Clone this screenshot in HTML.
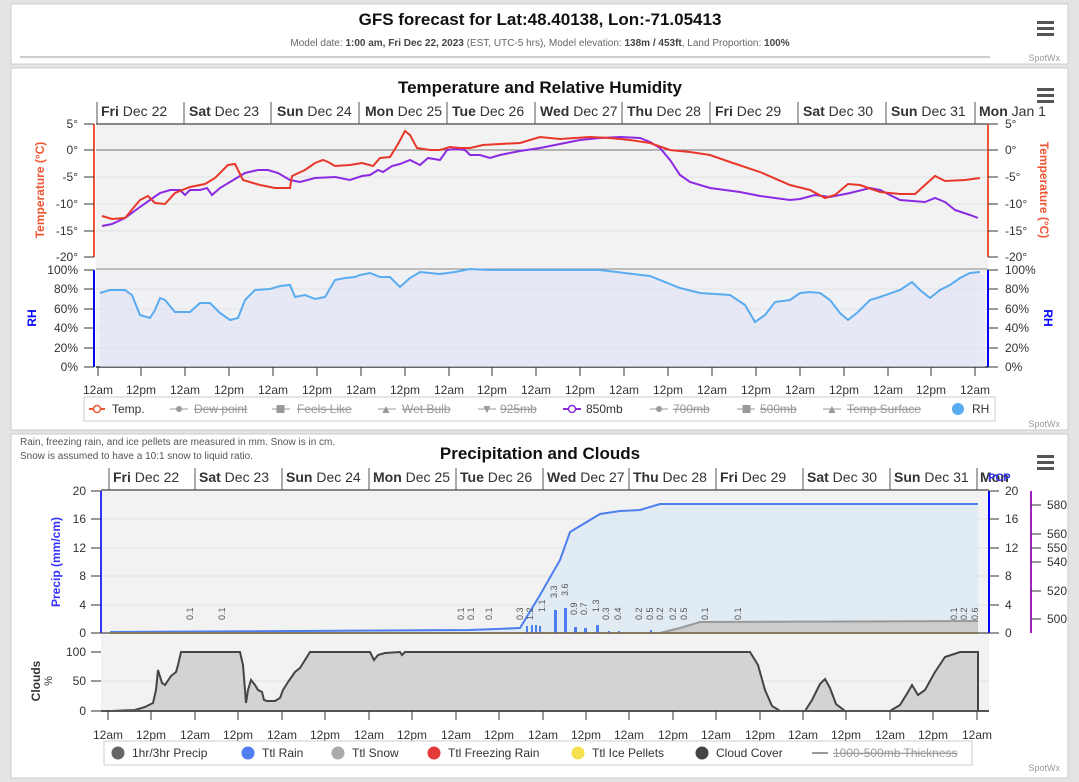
<!DOCTYPE html>
<html><head><meta charset="utf-8"><style>
body{margin:0;width:1079px;height:782px;background:#e4e4e4;overflow:hidden;font-family:"Liberation Sans",sans-serif}
svg{position:absolute;left:0;top:0}
text{font-family:"Liberation Sans",sans-serif}
</style></head><body>
<svg width="1079" height="782" viewBox="0 0 1079 782">
<defs>
<pattern id="g" width="1" height="1"><rect width="1" height="1" fill="#f3f3f3"/></pattern>
</defs>
<!-- panels -->
<rect x="11" y="4" width="1057" height="60" fill="#fff" stroke="#ccc"/>
<rect x="11" y="68" width="1057" height="362" fill="#fff" stroke="#ccc"/>
<rect x="11" y="434" width="1057" height="344" fill="#fff" stroke="#ccc"/>
<line x1="20" y1="57" x2="990" y2="57" stroke="#ccc" stroke-width="2"/>
<text x="540" y="25" font-size="17" font-weight="bold" text-anchor="middle" fill="#111">GFS forecast for Lat:48.40138, Lon:-71.05413</text>
<text x="540" y="46" font-size="10" text-anchor="middle" fill="#666">Model date: <tspan font-weight="bold" fill="#444">1:00 am, Fri Dec 22, 2023</tspan> (EST, UTC-5 hrs), Model elevation: <tspan font-weight="bold" fill="#444">138m / 453ft</tspan>, Land Proportion: <tspan font-weight="bold" fill="#444">100%</tspan></text>
<g fill="#555"><rect x="1037" y="21" width="17" height="3"/><rect x="1037" y="27" width="17" height="3"/><rect x="1037" y="33" width="17" height="3"/>
<rect x="1037" y="88" width="17" height="3"/><rect x="1037" y="94" width="17" height="3"/><rect x="1037" y="100" width="17" height="3"/>
<rect x="1037" y="455" width="17" height="3"/><rect x="1037" y="461" width="17" height="3"/><rect x="1037" y="467" width="17" height="3"/></g>
<g font-size="9" fill="#999" text-anchor="end"><text x="1060" y="61">SpotWx</text><text x="1060" y="427">SpotWx</text><text x="1060" y="771">SpotWx</text></g>

<!-- Temp panel -->
<text x="540" y="93" font-size="17" font-weight="bold" text-anchor="middle" fill="#111">Temperature and Relative Humidity</text>
<rect x="96" y="124" width="892" height="243" fill="#f2f2f2"/>
<rect x="96" y="270" width="880" height="97" fill="#eef0f8" opacity="0.5"/>
<g stroke="#e2e2e2" stroke-width="1">
<line x1="96" y1="177" x2="988" y2="177"/><line x1="96" y1="204" x2="988" y2="204"/><line x1="96" y1="231" x2="988" y2="231"/>
<line x1="96" y1="289" x2="988" y2="289"/><line x1="96" y1="309" x2="988" y2="309"/><line x1="96" y1="328" x2="988" y2="328"/><line x1="96" y1="348" x2="988" y2="348"/>
</g>
<line x1="96" y1="150" x2="988" y2="150" stroke="#777"/>
<line x1="96" y1="124" x2="988" y2="124" stroke="#888" stroke-width="2"/>
<line x1="96" y1="269" x2="988" y2="269" stroke="#888" stroke-width="1"/>
<line x1="96" y1="367" x2="988" y2="367" stroke="#666" stroke-width="2"/>
<g stroke="#555"><line x1="97" y1="102" x2="97" y2="124"/><line x1="184" y1="102" x2="184" y2="124"/><line x1="271" y1="102" x2="271" y2="124"/><line x1="359" y1="102" x2="359" y2="124"/><line x1="447" y1="102" x2="447" y2="124"/><line x1="535" y1="102" x2="535" y2="124"/><line x1="622" y1="102" x2="622" y2="124"/><line x1="710" y1="102" x2="710" y2="124"/><line x1="798" y1="102" x2="798" y2="124"/><line x1="886" y1="102" x2="886" y2="124"/><line x1="975" y1="102" x2="975" y2="124"/></g>
<g font-size="14" fill="#333">
<text x="101" y="116"><tspan font-weight="bold">Fri</tspan> Dec 22</text><text x="189" y="116"><tspan font-weight="bold">Sat</tspan> Dec 23</text><text x="277" y="116"><tspan font-weight="bold">Sun</tspan> Dec 24</text><text x="365" y="116"><tspan font-weight="bold">Mon</tspan> Dec 25</text><text x="452" y="116"><tspan font-weight="bold">Tue</tspan> Dec 26</text><text x="540" y="116"><tspan font-weight="bold">Wed</tspan> Dec 27</text><text x="627" y="116"><tspan font-weight="bold">Thu</tspan> Dec 28</text><text x="715" y="116"><tspan font-weight="bold">Fri</tspan> Dec 29</text><text x="803" y="116"><tspan font-weight="bold">Sat</tspan> Dec 30</text><text x="891" y="116"><tspan font-weight="bold">Sun</tspan> Dec 31</text><text x="979" y="116"><tspan font-weight="bold">Mon</tspan> Jan 1</text>
</g>
<line x1="94" y1="124" x2="94" y2="257" stroke="#e53" stroke-width="2"/>
<line x1="988" y1="124" x2="988" y2="257" stroke="#e53" stroke-width="2"/>
<line x1="94" y1="270" x2="94" y2="367" stroke="#00f" stroke-width="2"/>
<line x1="988" y1="270" x2="988" y2="367" stroke="#00f" stroke-width="2"/>
<g font-size="12" fill="#333" text-anchor="end">
<text x="78" y="128">5°</text><text x="78" y="154">0°</text><text x="78" y="181">-5°</text><text x="78" y="208">-10°</text><text x="78" y="235">-15°</text><text x="78" y="261">-20°</text>
<text x="78" y="274">100%</text><text x="78" y="293">80%</text><text x="78" y="313">60%</text><text x="78" y="332">40%</text><text x="78" y="352">20%</text><text x="78" y="371">0%</text>
</g>
<g font-size="12" fill="#333">
<text x="1005" y="128">5°</text><text x="1005" y="154">0°</text><text x="1005" y="181">-5°</text><text x="1005" y="208">-10°</text><text x="1005" y="235">-15°</text><text x="1005" y="261">-20°</text>
<text x="1005" y="274">100%</text><text x="1005" y="293">80%</text><text x="1005" y="313">60%</text><text x="1005" y="332">40%</text><text x="1005" y="352">20%</text><text x="1005" y="371">0%</text>
</g>
<g stroke="#333"><line x1="84" y1="124" x2="94" y2="124"/><line x1="84" y1="150" x2="94" y2="150"/><line x1="84" y1="177" x2="94" y2="177"/><line x1="84" y1="204" x2="94" y2="204"/><line x1="84" y1="231" x2="94" y2="231"/><line x1="84" y1="257" x2="94" y2="257"/>
<line x1="84" y1="270" x2="94" y2="270"/><line x1="84" y1="289" x2="94" y2="289"/><line x1="84" y1="309" x2="94" y2="309"/><line x1="84" y1="328" x2="94" y2="328"/><line x1="84" y1="348" x2="94" y2="348"/><line x1="84" y1="367" x2="94" y2="367"/>
<line x1="988" y1="124" x2="998" y2="124"/><line x1="988" y1="150" x2="998" y2="150"/><line x1="988" y1="177" x2="998" y2="177"/><line x1="988" y1="204" x2="998" y2="204"/><line x1="988" y1="231" x2="998" y2="231"/><line x1="988" y1="257" x2="998" y2="257"/>
<line x1="988" y1="270" x2="998" y2="270"/><line x1="988" y1="289" x2="998" y2="289"/><line x1="988" y1="309" x2="998" y2="309"/><line x1="988" y1="328" x2="998" y2="328"/><line x1="988" y1="348" x2="998" y2="348"/><line x1="988" y1="367" x2="998" y2="367"/></g>
<text transform="translate(44,190) rotate(-90)" font-size="12" font-weight="bold" fill="#e53" text-anchor="middle">Temperature (°C)</text>
<text transform="translate(1040,190) rotate(90)" font-size="12" font-weight="bold" fill="#e53" text-anchor="middle">Temperature (°C)</text>
<text transform="translate(36,318) rotate(-90)" font-size="12" font-weight="bold" fill="#00f" text-anchor="middle">RH</text>
<text transform="translate(1044,318) rotate(90)" font-size="12" font-weight="bold" fill="#00f" text-anchor="middle">RH</text>
<path d="M100,293 L110,290 125,290 132,295 140,315 150,318 155,310 160,298 165,300 175,312 190,312 200,303 210,303 220,313 230,320 238,318 245,300 255,290 270,289 280,286 290,285 295,297 305,295 315,299 325,297 335,280 345,278 355,277 360,275 370,273 380,277 390,277 400,287 410,278 420,272 430,273 440,274 455,272 470,269 490,270 600,270 650,276 680,288 700,293 730,295 745,305 755,322 765,315 775,302 790,300 800,293 810,292 820,293 830,300 840,313 848,320 858,312 870,300 880,297 900,290 912,282 920,290 930,298 940,290 950,285 960,278 970,273 985,275 L985,367 L100,367Z" fill="#dfe2f5" opacity="0.6"/>
<polyline fill="none" stroke="#5aacf0" stroke-width="2" points="100,293 110,290 125,290 132,295 140,315 150,318 155,310 160,298 165,300 175,312 190,312 200,303 210,303 220,313 230,320 238,318 245,300 255,290 270,289 280,286 290,285 295,297 305,295 315,299 325,297 335,280 345,278 355,277 360,275 370,273 380,277 390,277 400,287 410,278 420,272 430,273 440,274 455,272 470,269 490,270 600,270 650,276 680,288 700,293 730,295 745,305 755,322 765,315 775,302 790,300 800,293 810,292 820,293 830,300 840,313 848,320 858,312 870,300 880,297 900,290 912,282 920,290 930,298 940,290 950,285 960,278 970,273 980,272"/>
<polyline fill="none" stroke="#8a2be2" stroke-width="2" points="102,226 112,224 125,218 140,207 150,200 160,193 170,190 180,190 185,195 190,190 200,190 207,188 212,195 220,188 235,179 245,173 258,170 268,170 278,173 290,180 300,182 315,178 335,177 350,180 362,176 370,175 378,170 383,172 392,166 400,164 410,160 420,165 428,158 440,160 447,150 455,149 465,150 470,155 480,155 490,158 500,155 520,151 540,148 560,144 580,140 600,138 620,137 640,138 650,142 660,148 670,160 680,175 690,182 710,188 740,192 760,196 775,198 790,200 800,199 815,195 830,197 850,193 870,188 880,190 900,200 925,202 935,198 945,202 955,210 970,215 978,218"/>
<polyline fill="none" stroke="#e8372a" stroke-width="2" points="102,216 112,219 125,218 140,200 148,196 155,203 165,204 175,193 190,187 205,184 215,178 228,165 235,164 243,180 260,185 275,188 290,188 292,176 305,170 315,163 323,160 328,162 335,166 350,165 362,163 373,166 380,158 390,157 398,144 405,131 410,135 417,148 430,150 440,150 450,147 460,148 470,148 483,145 500,144 520,143 540,137 560,139 590,137 610,138 630,140 650,143 670,150 690,152 710,155 730,162 760,172 790,185 810,190 825,198 835,195 848,184 860,185 880,192 900,194 915,194 925,185 935,176 945,181 965,180 980,178"/>
<g font-size="12" fill="#333" text-anchor="middle" id="tl1">
<text x="98" y="394">12am</text><text x="141" y="394">12pm</text><text x="185" y="394">12am</text><text x="229" y="394">12pm</text><text x="273" y="394">12am</text><text x="317" y="394">12pm</text><text x="361" y="394">12am</text><text x="405" y="394">12pm</text><text x="449" y="394">12am</text><text x="492" y="394">12pm</text><text x="536" y="394">12am</text><text x="580" y="394">12pm</text><text x="624" y="394">12am</text><text x="668" y="394">12pm</text><text x="712" y="394">12am</text><text x="756" y="394">12pm</text><text x="800" y="394">12am</text><text x="844" y="394">12pm</text><text x="888" y="394">12am</text><text x="931" y="394">12pm</text><text x="975" y="394">12am</text>
</g>
<g stroke="#333"><path d="M98,367v9M141,367v9M185,367v9M229,367v9M273,367v9M317,367v9M361,367v9M405,367v9M449,367v9M492,367v9M536,367v9M580,367v9M624,367v9M668,367v9M712,367v9M756,367v9M800,367v9M844,367v9M888,367v9M931,367v9M975,367v9"/></g>
<rect x="84" y="397" width="911" height="24" fill="#fff" stroke="#ccc"/>
<g font-size="12" fill="#333">
<line x1="89" y1="409" x2="105" y2="409" stroke="#e53" stroke-width="2"/><circle cx="97" cy="409" r="3.5" fill="#fff" stroke="#e53" stroke-width="1.5"/><text x="112" y="413">Temp.</text>
<g fill="#999" stroke="#999"><line x1="170" y1="409" x2="188" y2="409"/><circle cx="179" cy="409" r="2.5"/></g><text x="194" y="413" fill="#999" text-decoration="line-through">Dew point</text>
<g fill="#999" stroke="#999"><line x1="272" y1="409" x2="290" y2="409"/><rect x="277" y="405.5" width="7" height="7"/></g><text x="297" y="413" fill="#999" text-decoration="line-through">Feels Like</text>
<g fill="#999" stroke="#999"><line x1="378" y1="409" x2="396" y2="409"/></g><text x="386" y="413" fill="#999" text-anchor="middle">▲</text><text x="402" y="413" fill="#999" text-decoration="line-through">Wet Bulb</text>
<line x1="478" y1="409" x2="496" y2="409" stroke="#999"/><text x="487" y="413" fill="#999" text-anchor="middle">▼</text><text x="500" y="413" fill="#999" text-decoration="line-through">925mb</text>
<line x1="563" y1="409" x2="581" y2="409" stroke="#8a2be2" stroke-width="2"/><circle cx="572" cy="409" r="3.5" fill="#fff" stroke="#8a2be2" stroke-width="1.5"/><text x="586" y="413">850mb</text>
<g fill="#999" stroke="#999"><line x1="650" y1="409" x2="668" y2="409"/><circle cx="659" cy="409" r="2.5"/></g><text x="673" y="413" fill="#999" text-decoration="line-through">700mb</text>
<g fill="#999" stroke="#999"><line x1="737" y1="409" x2="755" y2="409"/><rect x="743" y="405.5" width="7" height="7"/></g><text x="760" y="413" fill="#999" text-decoration="line-through">500mb</text>
<line x1="823" y1="409" x2="841" y2="409" stroke="#999"/><text x="832" y="413" fill="#999" text-anchor="middle">▲</text><text x="847" y="413" fill="#999" text-decoration="line-through">Temp Surface</text>
<circle cx="958" cy="409" r="6" fill="#5aacf0"/><text x="972" y="413">RH</text>
</g>

<!-- Precip panel -->
<text x="20" y="445" font-size="10" fill="#555">Rain, freezing rain, and ice pellets are measured in mm. Snow is in cm.</text>
<text x="20" y="459" font-size="10" fill="#555">Snow is assumed to have a 10:1 snow to liquid ratio.</text>
<text x="540" y="459" font-size="17" font-weight="bold" text-anchor="middle" fill="#111">Precipitation and Clouds</text>
<rect x="101" y="491" width="888" height="220" fill="#f2f2f2"/>
<g stroke="#e2e2e2"><line x1="101" y1="519" x2="989" y2="519"/><line x1="101" y1="548" x2="989" y2="548"/><line x1="101" y1="576" x2="989" y2="576"/><line x1="101" y1="605" x2="989" y2="605"/><line x1="101" y1="681" x2="989" y2="681"/></g>
<line x1="101" y1="490" x2="989" y2="490" stroke="#888" stroke-width="2"/>
<g stroke="#555"><line x1="109" y1="468" x2="109" y2="490"/><line x1="195" y1="468" x2="195" y2="490"/><line x1="282" y1="468" x2="282" y2="490"/><line x1="369" y1="468" x2="369" y2="490"/><line x1="456" y1="468" x2="456" y2="490"/><line x1="543" y1="468" x2="543" y2="490"/><line x1="629" y1="468" x2="629" y2="490"/><line x1="716" y1="468" x2="716" y2="490"/><line x1="803" y1="468" x2="803" y2="490"/><line x1="890" y1="468" x2="890" y2="490"/><line x1="977" y1="468" x2="977" y2="490"/></g>
<g font-size="14" fill="#333">
<text x="113" y="482"><tspan font-weight="bold">Fri</tspan> Dec 22</text><text x="199" y="482"><tspan font-weight="bold">Sat</tspan> Dec 23</text><text x="286" y="482"><tspan font-weight="bold">Sun</tspan> Dec 24</text><text x="373" y="482"><tspan font-weight="bold">Mon</tspan> Dec 25</text><text x="460" y="482"><tspan font-weight="bold">Tue</tspan> Dec 26</text><text x="547" y="482"><tspan font-weight="bold">Wed</tspan> Dec 27</text><text x="633" y="482"><tspan font-weight="bold">Thu</tspan> Dec 28</text><text x="720" y="482"><tspan font-weight="bold">Fri</tspan> Dec 29</text><text x="807" y="482"><tspan font-weight="bold">Sat</tspan> Dec 30</text><text x="894" y="482"><tspan font-weight="bold">Sun</tspan> Dec 31</text><text x="980" y="482"><tspan font-weight="bold">Mon</tspan></text>
</g>
<text x="988" y="481" font-size="11" font-weight="bold" fill="#33f">PCP</text>
<path d="M110,632 L470,630 520,628 540,595 560,560 570,532 580,526 600,514 620,511 640,510 660,504 978,504 L978,633 L110,633Z" fill="#dbe8f3" opacity="0.8"/>
<path d="M660,633 L680,628 700,622 978,621 L978,633Z" fill="#ccc"/>
<polyline fill="none" stroke="#999" stroke-width="2" points="660,633 680,628 700,622 978,621"/>
<polyline fill="none" stroke="#4d7ef0" stroke-width="2" points="110,632 470,630 520,628 540,595 560,560 570,532 580,526 600,514 620,511 640,510 660,504 978,504"/>
<line x1="110" y1="633" x2="978" y2="633" stroke="#f0b040" stroke-width="2"/>
<g fill="#4d7ef0"><rect x="526" y="626" width="2" height="7"/><rect x="531" y="625" width="2" height="8"/><rect x="535" y="625" width="2" height="8"/><rect x="539" y="626" width="2" height="7"/><rect x="554" y="610" width="3" height="23"/><rect x="564" y="608" width="3" height="25"/><rect x="574" y="627" width="3" height="6"/><rect x="584" y="628" width="3" height="5"/><rect x="596" y="625" width="3" height="8"/><rect x="608" y="631" width="2" height="2"/><rect x="618" y="631" width="2" height="2"/><rect x="650" y="630" width="2" height="3"/></g>
<g font-size="9" fill="#555">
<text transform="translate(193,620) rotate(-90)">0.1</text><text transform="translate(225,620) rotate(-90)">0.1</text>
<text transform="translate(464,620) rotate(-90)">0.1</text><text transform="translate(474,620) rotate(-90)">0.1</text><text transform="translate(492,620) rotate(-90)">0.1</text>
<text transform="translate(523,620) rotate(-90)">0.3</text><text transform="translate(533,620) rotate(-90)">1.2</text><text transform="translate(545,612) rotate(-90)">1.1</text><text transform="translate(557,598) rotate(-90)">3.3</text><text transform="translate(568,596) rotate(-90)">3.6</text><text transform="translate(577,615) rotate(-90)">0.9</text><text transform="translate(587,615) rotate(-90)">0.7</text><text transform="translate(599,612) rotate(-90)">1.3</text><text transform="translate(609,620) rotate(-90)">0.3</text><text transform="translate(621,620) rotate(-90)">0.4</text><text transform="translate(642,620) rotate(-90)">0.2</text><text transform="translate(653,620) rotate(-90)">0.5</text><text transform="translate(663,620) rotate(-90)">0.2</text><text transform="translate(676,620) rotate(-90)">0.2</text><text transform="translate(687,620) rotate(-90)">0.5</text><text transform="translate(708,620) rotate(-90)">0.1</text><text transform="translate(741,620) rotate(-90)">0.1</text>
<text transform="translate(957,620) rotate(-90)">0.1</text><text transform="translate(967,620) rotate(-90)">0.2</text><text transform="translate(978,620) rotate(-90)">0.6</text>
</g>
<line x1="101" y1="633" x2="989" y2="633" stroke="#666" stroke-width="1.5"/>
<line x1="101" y1="491" x2="101" y2="633" stroke="#33f" stroke-width="2"/>
<line x1="989" y1="491" x2="989" y2="633" stroke="#00f" stroke-width="2"/>
<line x1="1031" y1="491" x2="1031" y2="633" stroke="#a020c0" stroke-width="2"/>
<g font-size="12" fill="#333" text-anchor="end"><text x="86" y="495">20</text><text x="86" y="523">16</text><text x="86" y="552">12</text><text x="86" y="580">8</text><text x="86" y="609">4</text><text x="86" y="637">0</text></g>
<g stroke="#333"><path d="M91,491h10M91,519h10M91,548h10M91,576h10M91,605h10M91,633h10M989,491h10M989,519h10M989,548h10M989,576h10M989,605h10M989,633h10M1031,505h10M1031,534h10M1031,548h10M1031,562h10M1031,591h10M1031,619h10"/></g>
<g font-size="12" fill="#333"><text x="1005" y="495">20</text><text x="1005" y="523">16</text><text x="1005" y="552">12</text><text x="1005" y="580">8</text><text x="1005" y="609">4</text><text x="1005" y="637">0</text>
<text x="1047" y="509">580</text><text x="1047" y="538">560</text><text x="1047" y="552">550</text><text x="1047" y="566">540</text><text x="1047" y="595">520</text><text x="1047" y="623">500</text></g>
<text transform="translate(60,562) rotate(-90)" font-size="12" font-weight="bold" fill="#33f" text-anchor="middle">Precip (mm/cm)</text>
<text transform="translate(40,681) rotate(-90)" font-size="12" font-weight="bold" fill="#333" text-anchor="middle">Clouds</text>
<text transform="translate(52,681) rotate(-90)" font-size="11" fill="#333" text-anchor="middle">%</text>
<path d="M101,711 L112,711 135,710 145,707 153,703 156,690 158,670 162,683 165,685 171,676 176,672 178,665 181,652 240,652 243,665 245,690 246,703 248,690 251,680 255,685 258,690 262,692 264,700 267,701 275,701 280,698 283,690 288,682 295,672 300,668 310,652 370,652 372,656 374,660 378,655 385,653 400,652 402,655 405,652 750,652 758,665 765,690 772,706 780,711 805,711 812,700 820,684 825,679 830,688 836,704 845,711 890,711 900,705 908,692 912,685 918,695 925,690 935,672 945,657 960,652 978,652 L978,711Z" fill="#d3d3d3" stroke="#444" stroke-width="2"/>
<line x1="101" y1="711" x2="989" y2="711" stroke="#555" stroke-width="2"/>
<g font-size="12" fill="#333" text-anchor="end"><text x="86" y="656">100</text><text x="86" y="685">50</text><text x="86" y="715">0</text></g>
<g stroke="#333"><path d="M91,652h10M91,681h10M91,711h10"/></g>
<g font-size="12" fill="#333" text-anchor="middle">
<text x="108" y="739">12am</text><text x="151" y="739">12pm</text><text x="195" y="739">12am</text><text x="238" y="739">12pm</text><text x="282" y="739">12am</text><text x="325" y="739">12pm</text><text x="369" y="739">12am</text><text x="412" y="739">12pm</text><text x="456" y="739">12am</text><text x="499" y="739">12pm</text><text x="543" y="739">12am</text><text x="586" y="739">12pm</text><text x="629" y="739">12am</text><text x="673" y="739">12pm</text><text x="716" y="739">12am</text><text x="760" y="739">12pm</text><text x="803" y="739">12am</text><text x="846" y="739">12pm</text><text x="890" y="739">12am</text><text x="933" y="739">12pm</text><text x="977" y="739">12am</text>
</g>
<g stroke="#333"><path d="M108,711v9M151,711v9M195,711v9M238,711v9M282,711v9M325,711v9M369,711v9M412,711v9M456,711v9M499,711v9M543,711v9M586,711v9M629,711v9M673,711v9M716,711v9M760,711v9M803,711v9M846,711v9M890,711v9M933,711v9M977,711v9"/></g>
<rect x="104" y="741" width="868" height="24" fill="#fff" stroke="#ccc"/>
<g font-size="12" fill="#333">
<circle cx="118" cy="753" r="6.5" fill="#666"/><text x="132" y="757">1hr/3hr Precip</text>
<circle cx="248" cy="753" r="6.5" fill="#4d7ef0"/><text x="262" y="757">Ttl Rain</text>
<circle cx="338" cy="753" r="6.5" fill="#aaa"/><text x="352" y="757">Ttl Snow</text>
<circle cx="434" cy="753" r="6.5" fill="#e53a3a"/><text x="448" y="757">Ttl Freezing Rain</text>
<circle cx="578" cy="753" r="6.5" fill="#f5e050"/><text x="592" y="757">Ttl Ice Pellets</text>
<circle cx="702" cy="753" r="6.5" fill="#444"/><text x="716" y="757">Cloud Cover</text>
<line x1="812" y1="753" x2="828" y2="753" stroke="#999" stroke-width="2"/><text x="833" y="757" fill="#999" text-decoration="line-through">1000-500mb Thickness</text>
</g>
</svg>
</body></html>
